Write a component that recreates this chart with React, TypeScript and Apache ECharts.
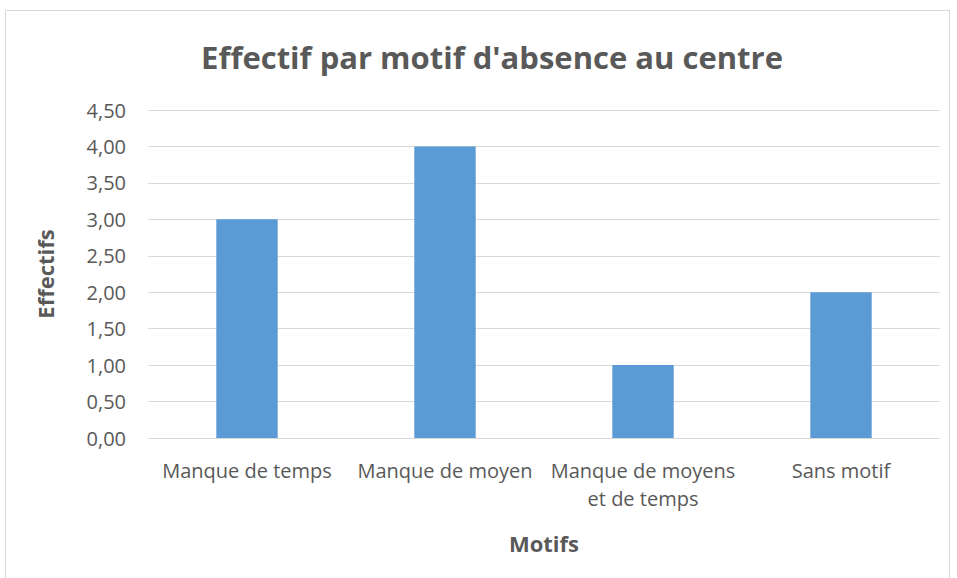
import React, { useEffect, useRef } from "react";
import * as echarts from "echarts";

const categories = ["Manque de temps", "Manque de moyen", "Manque de moyens\net de temps", "Sans motif"];
const values = [3, 4, 1, 2];
const titleText = "Effectif par motif d'absence au centre";
const yName = "Effectifs";
const xName = "Motifs";

const FONT = "'Open Sans', sans-serif";

export default function App() {
  const ref = useRef<HTMLDivElement>(null);
  useEffect(() => {
    if (!ref.current) return;
    const chart = echarts.init(ref.current, undefined, { renderer: "svg" });
    chart.setOption({
      animation: false,
      backgroundColor: "#ffffff",
      textStyle: { fontFamily: FONT },
      title: {
        text: titleText,
        left: 487,
        textAlign: "center",
        top: 36,
        textStyle: { fontFamily: FONT, fontSize: 31, fontWeight: "bold", color: "#595959" },
      },
      graphic: [
        {
          type: "rect",
          shape: { x: 5.5, y: 10.5, width: 944, height: 580 },
          style: { fill: "none", stroke: "#d9d9d9", lineWidth: 1 },
          silent: true,
        },
      ],
      grid: { left: 148, right: 17, top: 110, bottom: 140, containLabel: false },
      xAxis: {
        type: "category",
        data: categories,
        name: xName,
        nameLocation: "middle",
        nameGap: 94,
        nameTextStyle: { fontFamily: FONT, fontSize: 22, fontWeight: "bold", color: "#595959" },
        axisLine: { show: true, lineStyle: { color: "#d9d9d9", width: 1 } },
        axisTick: { show: false },
        axisLabel: {
          fontFamily: FONT,
          fontSize: 20,
          color: "#595959",
          margin: 18,
          lineHeight: 28,
          interval: 0,
        },
      },
      yAxis: {
        type: "value",
        min: 0,
        max: 4.5,
        interval: 0.5,
        name: yName,
        nameLocation: "middle",
        nameGap: 92,
        nameRotate: 90,
        nameTextStyle: { fontFamily: FONT, fontSize: 22, fontWeight: "bold", color: "#595959" },
        axisLine: { show: false },
        axisTick: { show: false },
        axisLabel: {
          fontFamily: FONT,
          fontSize: 20,
          color: "#595959",
          margin: 22,
          formatter: (v: number) => v.toFixed(2).replace(".", ","),
        },
        splitLine: { lineStyle: { color: "#d9d9d9", width: 1 } },
      },
      series: [
        {
          type: "bar",
          data: values,
          barWidth: "31%",
          itemStyle: { color: "#5b9bd5" },
        },
      ],
    });
    return () => chart.dispose();
  }, []);
  return <div ref={ref} style={{ position: "fixed", left: 0, top: 0, width: 957, height: 578 }} />;
}
